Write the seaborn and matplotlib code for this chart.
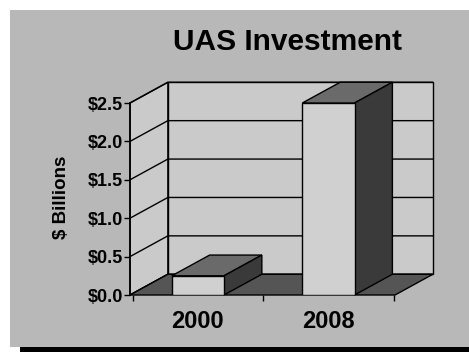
import numpy as np
import pandas as pd
import matplotlib
matplotlib.use('Agg')
import matplotlib.pyplot as plt
from matplotlib.patches import Polygon, Rectangle
import seaborn as sns

# data ($ billions)
years = ['2000', '2008']
investment = [0.25, 2.5]
y_ticks = [0.0, 0.5, 1.0, 1.5, 2.0, 2.5]
y_labels = ['$0.0', '$0.5', '$1.0', '$1.5', '$2.0', '$2.5']

sns.set_theme(style='ticks')
plt.rcParams['font.family'] = ['Liberation Sans', 'DejaVu Sans']
plt.rcParams['text.color'] = 'black'
plt.rcParams['xtick.color'] = 'black'
plt.rcParams['ytick.color'] = 'black'
plt.rcParams['xtick.labelcolor'] = 'black'
plt.rcParams['ytick.labelcolor'] = 'black'

df = pd.DataFrame({'year': years, 'value': investment})

W, H = 469, 352
fig = plt.figure(figsize=(W / 100, H / 100), dpi=100)
fig.patch.set_facecolor('white')
# grey slide background + black rule at the bottom
fig.patches.append(Rectangle((10 / W, 5 / H), 459 / W, 337 / H, transform=fig.transFigure,
                             facecolor='#b8b8b8', edgecolor='none', zorder=-10))
fig.patches.append(Rectangle((20 / W, 0), 449 / W, 5 / H, transform=fig.transFigure,
                             facecolor='black', edgecolor='none', zorder=-9))

ax = fig.add_axes([130 / W, 57 / H, 265 / W, 192 / H])
ax.patch.set_alpha(0)

sns.barplot(data=df, x='year', y='value', width=0.4, color='#d0d0d0', saturation=1,
            edgecolor='black', linewidth=1, ax=ax, zorder=6)

x0, x1 = -0.52, 1.51
ax.set_xlim(x0, x1)
ax.set_ylim(0, 2.5)
DX, DY = 0.29, 0.27  # depth of the fake 3d box, in data units
top = y_ticks[-1]

# back wall and side wall
ax.add_patch(Polygon([(x0 + DX, DY), (x1 + DX, DY), (x1 + DX, top + DY), (x0 + DX, top + DY)],
                     closed=True, facecolor='#cacaca', edgecolor='black', lw=1, clip_on=False, zorder=1))
ax.add_patch(Polygon([(x0, 0), (x0 + DX, DY), (x0 + DX, top + DY), (x0, top)],
                     closed=True, facecolor='#cacaca', edgecolor='black', lw=1, clip_on=False, zorder=1))
for v in y_ticks:
    ax.plot([x0, x0 + DX, x1 + DX], [v, v + DY, v + DY], color='black', lw=1,
            clip_on=False, zorder=2)

# floor
ax.add_patch(Polygon([(x0, 0), (x1, 0), (x1 + DX, DY), (x0 + DX, DY)],
                     closed=True, facecolor='#555555', edgecolor='black', lw=1, clip_on=False, zorder=3))

# top and side faces of the bars
for bar in ax.patches[:len(years)]:
    bx, bw, bh = bar.get_x(), bar.get_width(), bar.get_height()
    ax.add_patch(Polygon([(bx, bh), (bx + bw, bh), (bx + bw + DX, bh + DY), (bx + DX, bh + DY)],
                         closed=True, facecolor='#6a6a6a', edgecolor='black', lw=1, clip_on=False, zorder=5))
    ax.add_patch(Polygon([(bx + bw, 0), (bx + bw + DX, DY), (bx + bw + DX, bh + DY), (bx + bw, bh)],
                         closed=True, facecolor='#3a3a3a', edgecolor='black', lw=1, clip_on=False, zorder=5))

sns.despine(ax=ax, top=True, right=True, bottom=True)
ax.spines['left'].set_color('black')
ax.spines['left'].set_linewidth(1.2)
ax.spines['left'].set_zorder(7)

ax.set_yticks(y_ticks, y_labels)
ax.tick_params(axis='y', length=4, width=1, color='black', pad=1, labelsize=13)
for t in ax.get_yticklabels():
    t.set_fontweight('bold')

ax.set_xticks([0, 1], years)
ax.set_xticks([-0.5, 0.5, 1.5], minor=True)
ax.tick_params(axis='x', which='major', length=0, pad=11, labelsize=17)
ax.tick_params(axis='x', which='minor', length=4, width=1, color='black', bottom=True)
for t in ax.get_xticklabels():
    t.set_fontweight('bold')
ax.set_xlabel('')
ax.set_ylabel('')

fig.text(62 / W, 1 - 197 / H, '$ Billions', rotation=90, ha='center', va='center',
         fontsize=13.5, fontweight='bold')
fig.text(287 / W, 1 - 42 / H, 'UAS Investment', ha='center', va='center',
         fontsize=21.5, fontweight='bold')

fig.savefig('out.png', dpi=100)
